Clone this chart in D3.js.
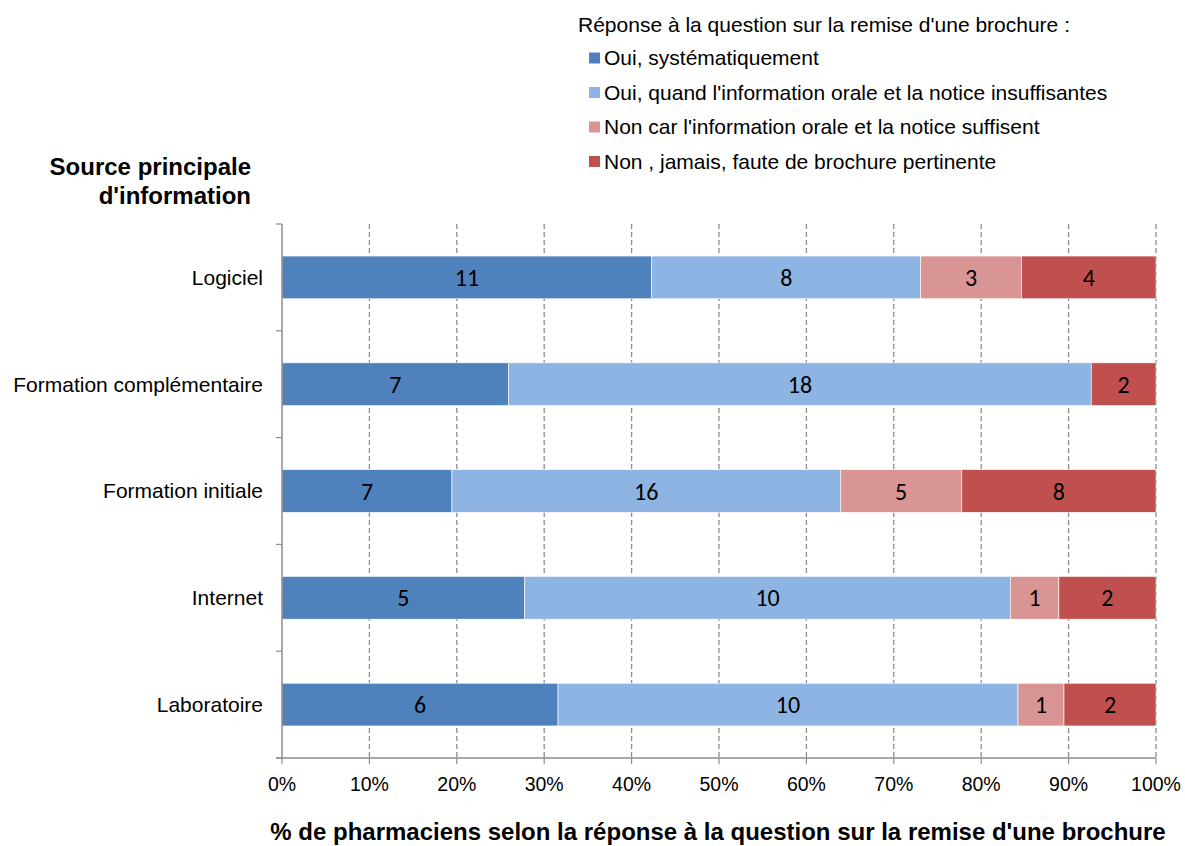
<!DOCTYPE html>
<html>
<head>
<meta charset="utf-8">
<script src="https://d3js.org/d3.v7.min.js"></script>
<style>
  body { margin: 0; background: #fff; }
  text { font-family: "Liberation Sans", Arial, sans-serif; }
</style>
</head>
<body>
<svg width="1185" height="846"></svg>
<script>
var categories = ["Logiciel", "Formation complémentaire", "Formation initiale", "Internet", "Laboratoire"];
var series = ["Oui, systématiquement", "Oui, quand l'information orale et la notice insuffisantes",
  "Non car l'information orale et la notice suffisent", "Non , jamais, faute de brochure pertinente"];
var ouiSyst = [11, 7, 7, 5, 6];
var ouiQuand = [8, 18, 16, 10, 10];
var nonCar = [3, 0, 5, 1, 1];
var nonJamais = [4, 2, 8, 2, 2];
var xTicks = [0, 0.1, 0.2, 0.3, 0.4, 0.5, 0.6, 0.7, 0.8, 0.9, 1];
var colors = ["#4F81BD", "#8EB4E3", "#D99594", "#C0504D"];

var svg = d3.select("svg");
var mLeft = 282, mRight = 1156, mTop = 224, mBottom = 758;

var rows = categories.map(function(c, i) {
  return {cat: c, vals: [ouiSyst[i], ouiQuand[i], nonCar[i], nonJamais[i]]};
});
rows.forEach(function(r) {
  var tot = d3.sum(r.vals), acc = 0;
  r.segs = r.vals.map(function(v, k) {
    var s = {k: k, v: v, x0: acc / tot, x1: (acc + v) / tot};
    acc += v;
    return s;
  });
});

var x = d3.scaleLinear().domain([0, 1]).range([mLeft, mRight]);
var y = d3.scaleBand().domain(categories).range([mTop, mBottom]).paddingInner(0.6).paddingOuter(0.3);
var yb = d3.scaleBand().domain(categories).range([mTop, mBottom]);

// grid
svg.append("g")
  .selectAll("line")
  .data(xTicks.slice(1))
  .enter().append("line")
  .attr("x1", function(d) { return x(d); })
  .attr("x2", function(d) { return x(d); })
  .attr("y1", mTop)
  .attr("y2", mBottom)
  .style("stroke", "#8c8c8c")
  .style("stroke-width", 1.3)
  .style("stroke-dasharray", "5,3");

// bars
var bar = svg.append("g").selectAll("g")
  .data(rows)
  .enter().append("g")
  .attr("transform", function(d) { return "translate(0," + y(d.cat) + ")"; });

bar.selectAll("rect")
  .data(function(d) { return d.segs.filter(function(s) { return s.v > 0; }); })
  .enter().append("rect")
  .attr("x", function(s) { return x(s.x0); })
  .attr("width", function(s) { return x(s.x1) - x(s.x0); })
  .attr("height", y.bandwidth())
  .style("fill", function(s) { return colors[s.k]; })
  .style("stroke", "#fff")
  .style("stroke-width", 0.6);

bar.selectAll("text")
  .data(function(d) { return d.segs.filter(function(s) { return s.v > 0; }); })
  .enter().append("text")
  .attr("x", function(s) { return (x(s.x0) + x(s.x1)) / 2; })
  .attr("y", y.bandwidth() / 2)
  .attr("dy", "0.36em")
  .attr("text-anchor", "middle")
  .style("font-family", "Carlito, Lato, sans-serif")
  .style("font-size", "24px")
  .style("fill", "#000")
  .text(function(s) { return s.v; });

// y axis
var yAxis = svg.append("g");
yAxis.append("line")
  .attr("x1", mLeft).attr("x2", mLeft)
  .attr("y1", mTop).attr("y2", mBottom)
  .style("stroke", "#8c8c8c").style("stroke-width", 1.5);
yAxis.selectAll(".tk")
  .data(categories.concat(["_end"]))
  .enter().append("line")
  .attr("x1", mLeft - 6).attr("x2", mLeft)
  .attr("y1", function(d, i) { return i < categories.length ? yb(d) : mBottom; })
  .attr("y2", function(d, i) { return i < categories.length ? yb(d) : mBottom; })
  .style("stroke", "#8c8c8c").style("stroke-width", 1.2);
yAxis.selectAll("text")
  .data(categories)
  .enter().append("text")
  .attr("x", mLeft - 19)
  .attr("y", function(d) { return yb(d) + yb.bandwidth() / 2; })
  .attr("dy", "0.35em")
  .attr("text-anchor", "end")
  .style("font-size", "21px")
  .style("fill", "#000")
  .text(function(d) { return d; });

// x axis
var xAxis = svg.append("g");
xAxis.append("line")
  .attr("x1", mLeft - 6).attr("x2", mRight)
  .attr("y1", mBottom).attr("y2", mBottom)
  .style("stroke", "#8c8c8c").style("stroke-width", 1.5);
xAxis.selectAll(".tk")
  .data(xTicks)
  .enter().append("line")
  .attr("x1", function(d) { return x(d); })
  .attr("x2", function(d) { return x(d); })
  .attr("y1", mBottom).attr("y2", mBottom + 6)
  .style("stroke", "#8c8c8c").style("stroke-width", 1.2);
xAxis.selectAll("text")
  .data(xTicks)
  .enter().append("text")
  .attr("x", function(d) { return x(d); })
  .attr("y", mBottom + 33)
  .attr("text-anchor", "middle")
  .style("font-size", "19.5px")
  .style("fill", "#000")
  .text(d3.format(".0%"));

// titles
svg.append("text")
  .attr("x", 718).attr("y", 840)
  .attr("text-anchor", "middle")
  .style("font-size", "24px").style("font-weight", "bold")
  .text("% de pharmaciens selon la réponse à la question sur la remise d'une brochure");

var yt = svg.append("text")
  .attr("text-anchor", "end")
  .style("font-size", "24px").style("font-weight", "bold");
yt.append("tspan").attr("x", 251).attr("y", 175).text("Source principale");
yt.append("tspan").attr("x", 251).attr("y", 204).text("d'information");

// legend
svg.append("text")
  .attr("x", 578).attr("y", 32)
  .style("font-size", "21px")
  .text("Réponse à la question sur la remise d'une brochure :");

var leg = svg.append("g").selectAll("g")
  .data(series)
  .enter().append("g")
  .attr("transform", function(d, i) { return "translate(589," + (58 + i * 34.5) + ")"; });
leg.append("rect")
  .attr("x", 0).attr("y", -5.5)
  .attr("width", 11).attr("height", 11)
  .style("fill", function(d, i) { return colors[i]; });
leg.append("text")
  .attr("x", 15).attr("y", 0)
  .attr("dy", "0.35em")
  .style("font-size", "21px")
  .text(function(d) { return d; });
</script>
</body>
</html>
